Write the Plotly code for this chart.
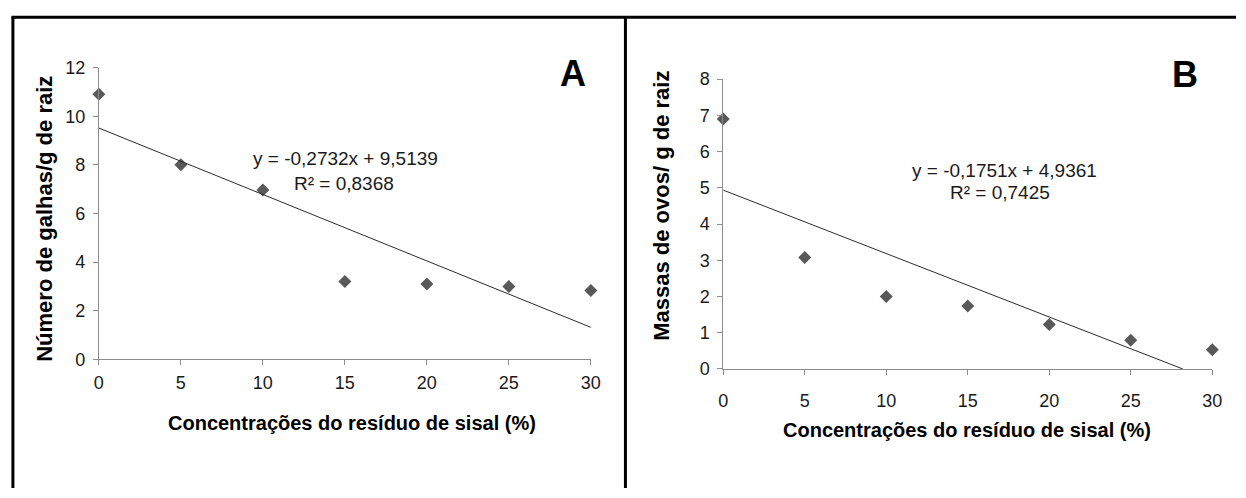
import plotly.graph_objects as go

# ---- data ----
concentracoes = [0, 5, 10, 15, 20, 25, 30]
galhas = [10.9, 8.0, 6.97, 3.2, 3.1, 3.0, 2.83]
massas = [6.9, 3.08, 2.0, 1.74, 1.23, 0.79, 0.53]
slope_a, inter_a, r2_a = -0.2732, 9.5139, 0.8368
slope_b, inter_b, r2_b = -0.1751, 4.9361, 0.7425
x_ticks = [0, 5, 10, 15, 20, 25, 30]
y_ticks_a = [0, 2, 4, 6, 8, 10, 12]
y_ticks_b = [0, 1, 2, 3, 4, 5, 6, 7, 8]
eq_a = "y = -0,2732x + 9,5139"
r2txt_a = "R² = 0,8368"
eq_b = "y = -0,1751x + 4,9361"
r2txt_b = "R² = 0,7425"
ytitle_a = "Número de galhas/g de raiz"
ytitle_b = "Massas de ovos/ g de raiz"
xtitle = "Concentrações do resíduo de sisal (%)"

W, H = 1246, 498
FONT = "Liberation Sans, Arial, sans-serif"
MARK = "#595959"
AX = "#8c8c8c"


def px(x):
    return x / W


def py(y):
    return 1 - y / H


fig = go.Figure()

# Panel A
fig.add_trace(go.Scatter(x=concentracoes, y=galhas, mode="markers",
                         marker=dict(symbol="diamond", size=10, color=MARK),
                         xaxis="x", yaxis="y", showlegend=False, cliponaxis=False))
xa_end = max(concentracoes)
fig.add_trace(go.Scatter(x=[0, xa_end], y=[inter_a, inter_a + slope_a * xa_end], mode="lines",
                         line=dict(color="#2b2b2b", width=1),
                         xaxis="x", yaxis="y", showlegend=False))

# Panel B
fig.add_trace(go.Scatter(x=concentracoes, y=massas, mode="markers",
                         marker=dict(symbol="diamond", size=10, color=MARK),
                         xaxis="x2", yaxis="y2", showlegend=False, cliponaxis=False))
xb_end = -inter_b / slope_b
fig.add_trace(go.Scatter(x=[0, xb_end], y=[inter_b, inter_b + slope_b * xb_end], mode="lines",
                         line=dict(color="#2b2b2b", width=1),
                         xaxis="x2", yaxis="y2", showlegend=False))

axis_common = dict(showgrid=False, zeroline=False, showline=True, linecolor=AX, linewidth=1,
                   ticks="outside", ticklen=5, tickcolor=AX, tickwidth=1,
                   tickfont=dict(family=FONT, size=18, color="#1a1a1a"))

fig.update_layout(
    width=W, height=H,
    margin=dict(l=0, r=0, t=0, b=0),
    paper_bgcolor="white", plot_bgcolor="white",
    xaxis=dict(domain=[px(95), px(593)], range=[0, 30], tickvals=x_ticks, anchor="y",
               ticklabelstandoff=2, **axis_common),
    yaxis=dict(domain=[py(364), py(60)], range=[0, 12], tickvals=y_ticks_a, anchor="x",
               ticklabelstandoff=4, **axis_common),
    xaxis2=dict(domain=[px(727), px(1222)], range=[0, 30], tickvals=x_ticks, anchor="y2",
                ticklabelstandoff=10, **axis_common),
    yaxis2=dict(domain=[py(374), py(72)], range=[0, 8], tickvals=y_ticks_b, anchor="x2",
                ticklabelstandoff=4, **axis_common),
)

C = dict(xanchor="center", yanchor="middle", showarrow=False)
ann = []
ann.append(dict(x=15.03, y=8.25, xref="x", yref="y", text=eq_a,
                font=dict(family=FONT, size=19, color="#1a1a1a"), **C))
ann.append(dict(x=14.94, y=7.22, xref="x", yref="y", text=r2txt_a,
                font=dict(family=FONT, size=19, color="#1a1a1a"), **C))
ann.append(dict(x=17.26, y=5.48, xref="x2", yref="y2", text=eq_b,
                font=dict(family=FONT, size=19, color="#1a1a1a"), **C))
ann.append(dict(x=16.96, y=4.87, xref="x2", yref="y2", text=r2txt_b,
                font=dict(family=FONT, size=19, color="#1a1a1a"), **C))
ann.append(dict(x=px(575), y=py(66), xref="paper", yref="paper", text="<b>A</b>",
                font=dict(family=FONT, size=36, color="black"), **C))
ann.append(dict(x=px(1194), y=py(67), xref="paper", yref="paper", text="<b>B</b>",
                font=dict(family=FONT, size=36, color="black"), **C))
ann.append(dict(x=px(40), y=py(218), xref="paper", yref="paper", text="<b>" + ytitle_a + "</b>",
                textangle=-90, font=dict(family=FONT, size=22, color="black"), **C))
ann.append(dict(x=px(665), y=py(204), xref="paper", yref="paper", text="<b>" + ytitle_b + "</b>",
                textangle=-90, font=dict(family=FONT, size=22, color="black"), **C))
ann.append(dict(x=px(351), y=py(430), xref="paper", yref="paper", text="<b>" + xtitle + "</b>",
                font=dict(family=FONT, size=20, color="black"), **C))
ann.append(dict(x=px(974), y=py(438), xref="paper", yref="paper", text="<b>" + xtitle + "</b>",
                font=dict(family=FONT, size=20, color="black"), **C))
fig.update_layout(annotations=ann)

shapes = [
    dict(type="line", xref="paper", yref="paper", x0=px(8), x1=px(8), y0=0, y1=py(7),
         line=dict(color="black", width=3)),
    dict(type="line", xref="paper", yref="paper", x0=px(6.5), x1=1, y0=py(7.5), y1=py(7.5),
         line=dict(color="black", width=3)),
    dict(type="line", xref="paper", yref="paper", x0=px(628), x1=px(628), y0=0, y1=py(7),
         line=dict(color="black", width=3)),
]
fig.update_layout(shapes=shapes)

fig.write_html("out.html", config={"displayModeBar": False},
               post_script="document.body.style.margin='0';document.body.style.overflow='hidden';")
